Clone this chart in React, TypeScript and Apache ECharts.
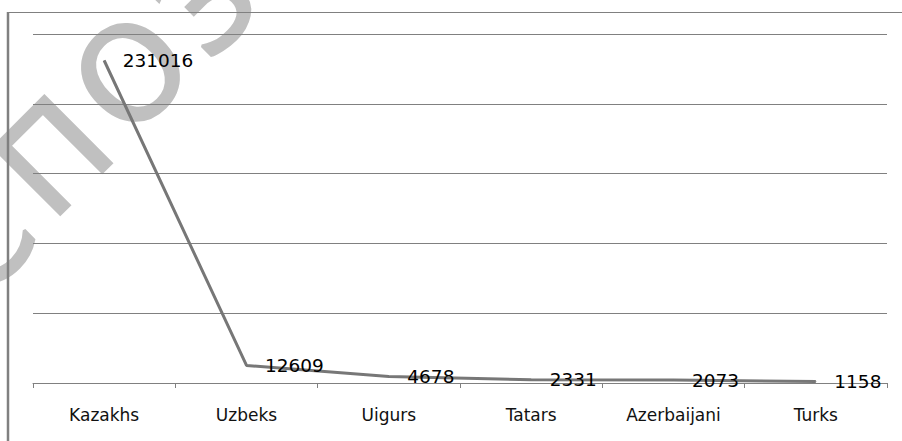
import React, { useEffect, useRef } from "react";
import * as echarts from "echarts";

const categories = ["Kazakhs", "Uzbeks", "Uigurs", "Tatars", "Azerbaijani", "Turks"];
const values = [231016, 12609, 4678, 2331, 2073, 1158];
const yMin = 0;
const yMax = 250000;
const yInterval = 50000;
const watermarkLetters = ["С", "П", "О", "З"];

export default function App() {
  const ref = useRef<HTMLDivElement>(null);
  useEffect(() => {
    if (!ref.current) return;
    const chart = echarts.init(ref.current, null, { renderer: "svg" });
    const letterPos = [
      [-20, 240],
      [54, 157],
      [132, 74],
      [206, 3],
    ];
    const watermark = watermarkLetters.map((t, i) => ({
      type: "text",
      z: -10,
      x: letterPos[i][0],
      y: letterPos[i][1],
      rotation: Math.PI / 4,
      style: {
        text: t,
        fontSize: 130,
        fontFamily: "DejaVu Sans",
        fill: "#c0c0c0",
        stroke: "#c0c0c0",
        lineWidth: 3,
        align: "center",
        verticalAlign: "middle",
      },
    }));
    chart.setOption({
      animation: false,
      backgroundColor: "#ffffff",
      grid: { left: 33, right: 15, top: 34, bottom: 58 },
      graphic: [
        ...watermark,
        {
          type: "line",
          z: 5,
          shape: { x1: 8, y1: 12.5, x2: 902, y2: 12.5 },
          style: { stroke: "#808080", lineWidth: 1 },
        },
        {
          type: "line",
          z: 5,
          shape: { x1: 8, y1: 12, x2: 8, y2: 441 },
          style: { stroke: "#808080", lineWidth: 2.5 },
        },
      ],
      xAxis: {
        type: "category",
        data: categories,
        boundaryGap: true,
        axisLine: { lineStyle: { color: "#808080", width: 1 } },
        axisTick: { show: true, length: 5, lineStyle: { color: "#808080" } },
        axisLabel: {
          margin: 23,
          fontSize: 17,
          fontFamily: "DejaVu Sans",
          color: "#111111",
        },
      },
      yAxis: {
        type: "value",
        min: yMin,
        max: yMax,
        interval: yInterval,
        axisLine: { show: false },
        axisTick: { show: false },
        axisLabel: { show: false },
        splitLine: { lineStyle: { color: "#808080", width: 1 } },
      },
      series: [
        {
          type: "line",
          data: values,
          symbol: "circle",
          symbolSize: 1,
          itemStyle: { color: "#777777" },
          lineStyle: { color: "#777777", width: 3 },
          label: {
            show: true,
            position: "right",
            distance: 18,
            fontSize: 18.5,
            fontFamily: "DejaVu Sans",
            color: "#000000",
          },
        },
      ],
    });
    return () => chart.dispose();
  }, []);
  return (
    <div
      ref={ref}
      style={{ position: "fixed", left: 0, top: 0, width: 902, height: 441 }}
    />
  );
}
